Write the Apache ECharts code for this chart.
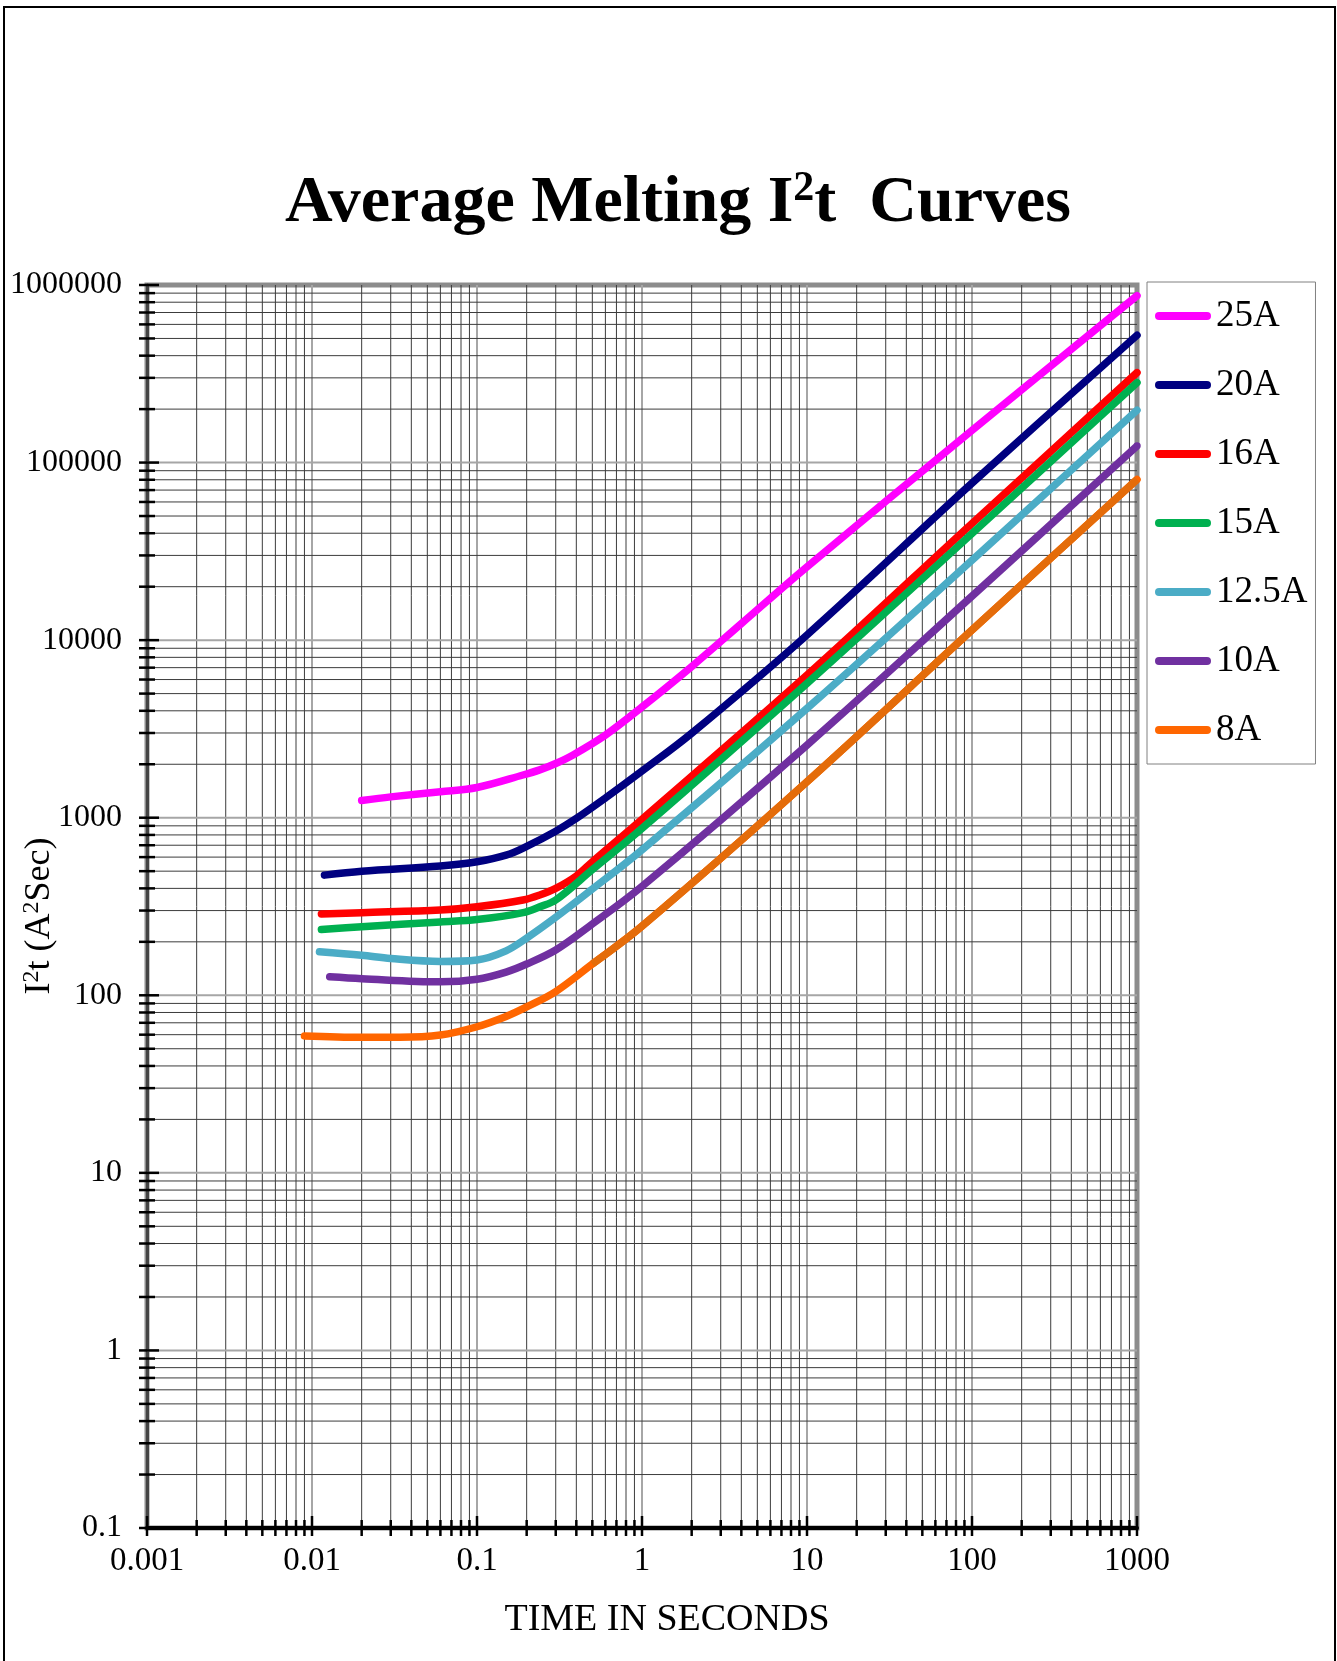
<!DOCTYPE html>
<html>
<head>
<meta charset="utf-8">
<title>Average Melting I2t Curves</title>
<script src="https://cdn.jsdelivr.net/npm/echarts@6/dist/echarts.min.js"></script>
<style>
  html, body { margin: 0; padding: 0; background: #fff; }
  #chart { width: 1337px; height: 1661px; }
</style>
</head>
<body>
<div id="chart"></div>
<script>
  // axis ticks
  var xTickLabels = ['0.001', '0.01', '0.1', '1', '10', '100', '1000'];
  var yTickLabels = ['0.1', '1', '10', '100', '1000', '10000', '100000', '1000000'];
  var minorSteps = [2, 3, 4, 5, 6, 7, 8, 9];

  var seriesNames = ['25A', '20A', '16A', '15A', '12.5A', '10A', '8A'];
  var seriesColors = ['#ff00ff', '#000080', '#ff0000', '#00b050', '#4bacc6', '#7030a0', '#ff6600'];
  var orangeLate = '#e46c0a';

  // curves: time (s) / I2t (A2s)
  var time25 = [0.02, 0.03, 0.06, 0.1, 0.19, 0.24, 0.3, 0.38, 0.6, 1, 2, 4, 10, 100, 1000];
  var i2t25 = [1250, 1310, 1400, 1480, 1740, 1860, 2020, 2250, 2920, 4200, 7100, 12400, 25900, 152000, 870000];

  var time20 = [0.0119, 0.02, 0.06, 0.1, 0.15, 0.2, 0.3, 0.4, 0.6, 1, 2, 10, 100, 1000];
  var i2t20 = [475, 500, 535, 565, 615, 690, 840, 990, 1290, 1830, 2990, 10700, 76600, 521000];

  var time16 = [0.0114, 0.02, 0.06, 0.1, 0.19, 0.24, 0.3, 0.4, 0.5, 1, 10, 100, 1000];
  var i2t16 = [287, 292, 302, 315, 344, 367, 400, 470, 565, 980, 6350, 45400, 321000];

  var time15 = [0.0114, 0.02, 0.06, 0.1, 0.19, 0.24, 0.3, 0.5, 1, 10, 100, 1000];
  var i2t15 = [235, 243, 259, 267, 292, 315, 344, 510, 870, 5710, 39900, 282000];

  var time125 = [0.0111, 0.02, 0.03, 0.06, 0.1, 0.15, 0.2, 0.3, 0.48, 1, 10, 100, 1000];
  var i2t125 = [176, 168, 161, 155, 158, 178, 210, 275, 385, 660, 4130, 28200, 197000];

  var time10 = [0.0128, 0.02, 0.06, 0.1, 0.15, 0.2, 0.3, 0.48, 1, 10, 100, 1000];
  var i2t10 = [127, 124, 119, 123, 135, 150, 180, 245, 410, 2565, 17700, 124000];

  var time8 = [0.009, 0.02, 0.034, 0.06, 0.1, 0.15, 0.2, 0.3, 0.5, 1, 10, 100, 1000];
  var i2t8 = [59, 58, 58, 59.7, 66.5, 76, 86, 105, 150, 245, 1595, 11400, 80200];

  var allTimes = [time25, time20, time16, time15, time125, time10, time8];
  var allValues = [i2t25, i2t20, i2t16, i2t15, i2t125, i2t10, i2t8];

  var xMin = 0.001, xMax = 1000, yMin = 0.1, yMax = 1000000;
  var serif = "'Liberation Serif', 'Times New Roman', serif";

  function pairs(ts, vs) {
    return ts.map(function (t, i) { return [t, vs[i]]; });
  }

  // decade + minor grid positions
  var xGridData = [], yGridData = [];
  xTickLabels.forEach(function (label, i) {
    var d = parseFloat(label);
    xGridData.push([d, yMin, 1]);
    if (i < xTickLabels.length - 1) {
      minorSteps.forEach(function (k) { xGridData.push([d * k, yMin, 0]); });
    }
  });
  yTickLabels.forEach(function (label, i) {
    var d = parseFloat(label);
    yGridData.push([xMin, d, 1]);
    if (i < yTickLabels.length - 1) {
      minorSteps.forEach(function (k) { yGridData.push([xMin, d * k, 0]); });
    }
  });

  function renderXGrid(params, api) {
    var t = api.value(0);
    var major = api.value(2) === 1;
    var p0 = api.coord([t, yMin]);
    var p1 = api.coord([t, yMax]);
    var children = [];
    if (t > xMin * 1.01 && t < xMax * 0.99) {
      children.push({
        type: 'line',
        shape: {x1: p0[0], y1: p0[1], x2: p1[0], y2: p1[1]},
        style: {stroke: major ? '#a6a6a6' : '#3c3c3c', lineWidth: major ? 2 : 1}
      });
    }
    children.push({
      type: 'line',
      shape: {x1: p0[0], y1: p0[1] + 8, x2: p0[0], y2: p0[1] - (major ? 12 : 8)},
      style: {stroke: '#000', lineWidth: 2.5}
    });
    return {type: 'group', children: children};
  }

  function renderYGrid(params, api) {
    var v = api.value(1);
    var major = api.value(2) === 1;
    var p0 = api.coord([xMin, v]);
    var p1 = api.coord([xMax, v]);
    var children = [];
    if (v > yMin * 1.01 && v < yMax * 0.99) {
      children.push({
        type: 'line',
        shape: {x1: p0[0], y1: p0[1], x2: p1[0], y2: p1[1]},
        style: {stroke: major ? '#a6a6a6' : '#3c3c3c', lineWidth: major ? 2 : 1}
      });
    }
    children.push({
      type: 'line',
      shape: {x1: p0[0] - 8, y1: p0[1], x2: p0[0] + (major ? 12 : 8), y2: p0[1]},
      style: {stroke: '#000', lineWidth: 2.5}
    });
    return {type: 'group', children: children};
  }

  var series = [
    {
      type: 'custom', name: 'xgrid', coordinateSystem: 'cartesian2d', silent: true, z: 1,
      renderItem: renderXGrid, data: xGridData, encode: {x: 0, y: 1}
    },
    {
      type: 'custom', name: 'ygrid', coordinateSystem: 'cartesian2d', silent: true, z: 1,
      renderItem: renderYGrid, data: yGridData, encode: {x: 0, y: 1}
    }
  ];

  seriesNames.forEach(function (name, i) {
    series.push({
      name: name,
      type: 'line',
      data: pairs(allTimes[i], allValues[i]),
      symbol: 'none',
      smooth: 0.35,
      z: 3,
      color: seriesColors[i],
      lineStyle: {width: 7.5, color: seriesColors[i], cap: 'round', join: 'round'}
    });
  });

  // upper part of the 8A curve is drawn in a darker orange
  var lateStart = time8.indexOf(0.5);
  series.push({
    name: '8A upper',
    type: 'line',
    data: pairs(time8.slice(lateStart), i2t8.slice(lateStart)),
    symbol: 'none',
    smooth: 0.35,
    z: 4,
    color: orangeLate,
    lineStyle: {width: 7.5, color: orangeLate, cap: 'butt', join: 'round'}
  });

  var chart = echarts.init(document.getElementById('chart'));
  chart.setOption({
    backgroundColor: '#fff',
    animation: false,
    title: {
      text: '{a|Average Melting I}{s|2}{a|t  Curves}',
      left: 678,
      top: 168,
      textAlign: 'center',
      padding: 0,
      textStyle: {
        rich: {
          a: {fontFamily: serif, fontSize: 66, fontWeight: 'bold', color: '#000', lineHeight: 72},
          s: {fontFamily: serif, fontSize: 42, fontWeight: 'bold', color: '#000', lineHeight: 72, verticalAlign: 'top'}
        }
      }
    },
    legend: {
      data: seriesNames,
      orient: 'vertical',
      left: 1147,
      top: 282,
      padding: [14, 8, 14, 8],
      borderColor: '#808080',
      borderWidth: 1,
      borderRadius: 0,
      itemWidth: 56,
      itemHeight: 8,
      itemGap: 29,
      icon: 'path://M4,0L52,0A4,4,0,0,1,52,8L4,8A4,4,0,0,1,4,0Z',
      itemStyle: {borderWidth: 0},
      selectedMode: false,
      textStyle: {fontFamily: serif, fontSize: 37, lineHeight: 40, color: '#000'}
    },
    grid: {
      left: 147,
      top: 285,
      width: 990,
      height: 1243,
      show: true,
      borderColor: '#8c8c8c',
      borderWidth: 5,
      containLabel: false
    },
    xAxis: {
      type: 'log',
      logBase: 10,
      min: xMin,
      max: xMax,
      interval: 1,
      axisLine: {show: true, lineStyle: {color: '#000', width: 4}},
      axisTick: {show: false},
      splitLine: {show: false},
      axisLabel: {
        fontFamily: serif,
        fontSize: 33,
        color: '#000',
        margin: 17,
        formatter: function (v) {
          return xTickLabels[Math.round(Math.log10(v)) + 3];
        }
      }
    },
    yAxis: {
      type: 'log',
      logBase: 10,
      min: yMin,
      max: yMax,
      interval: 1,
      axisLine: {show: true, lineStyle: {color: '#444', width: 3}},
      axisTick: {show: false},
      splitLine: {show: false},
      axisLabel: {
        fontFamily: serif,
        fontSize: 32,
        color: '#000',
        margin: 25,
        formatter: function (v) {
          return yTickLabels[Math.round(Math.log10(v)) + 1];
        }
      }
    },
    graphic: [
      {
        type: 'rect',
        silent: true,
        shape: {x: 4, y: 7, width: 1331, height: 1700},
        style: {fill: 'none', stroke: '#000', lineWidth: 2}
      },
      {
        type: 'text',
        silent: true,
        x: 667,
        y: 1620,
        style: {
          text: 'TIME IN SECONDS',
          fontFamily: serif,
          fontSize: 38,
          fill: '#000',
          textAlign: 'center',
          textVerticalAlign: 'middle'
        }
      },
      {
        type: 'text',
        silent: true,
        x: 40,
        y: 916,
        rotation: Math.PI / 2,
        style: {
          text: '{a|I}{s|2}{a|t (A}{s|2}{a|Sec)}',
          textAlign: 'center',
          textVerticalAlign: 'middle',
          rich: {
            a: {fontFamily: serif, fontSize: 36, fill: '#000', lineHeight: 40},
            s: {fontFamily: serif, fontSize: 24, fill: '#000', lineHeight: 40, verticalAlign: 'top'}
          }
        }
      }
    ],
    series: series
  });
</script>
</body>
</html>
